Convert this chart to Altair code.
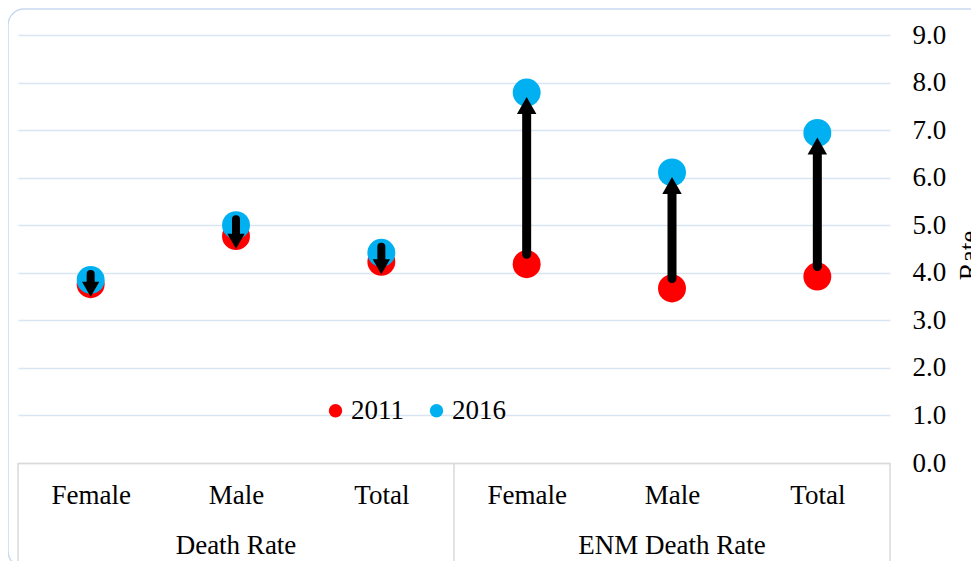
import json
import altair as alt
import pandas as pd

groups = ["Death  Rate", "Death  Rate", "Death  Rate",
          "ENM Death Rate", "ENM Death Rate", "ENM Death Rate"]
categories = ["Female", "Male", "Total", "Female", "Male", "Total"]
rate_2011 = [3.76, 4.77, 4.23, 4.18, 3.67, 3.92]
rate_2016 = [3.85, 5.00, 4.42, 7.79, 6.11, 6.94]
years = ["2011", "2016"]
group_names = ["Death  Rate", "ENM Death Rate"]

FONT = "Liberation Serif"
FS = 27
RED = "#FF0000"
BLUE = "#00B0F0"
GRID = "#DAE5F3"
TABLE = "#D9D9D9"

n = len(categories)
idx = list(range(n))

points = pd.DataFrame(
    [{"i": i, "year": years[0], "rate": rate_2011[i]} for i in idx]
    + [{"i": i, "year": years[1], "rate": rate_2016[i]} for i in idx]
)

arrows = pd.DataFrame({
    "i": idx,
    "group": groups,
    "r11": rate_2011,
    "r16": rate_2016,
})
up = arrows[arrows["group"] == group_names[1]]
down = arrows[arrows["group"] == group_names[0]]

group_pos = pd.DataFrame({
    "name": group_names,
    "c": [sum(i for i in idx if groups[i] == g) / groups.count(g) for g in group_names],
})
sep = pd.DataFrame({"s": [-0.5, 2.5, n - 0.5]})

W, H = 872, 428

xscale = alt.Scale(domain=[-0.5, n - 0.5], nice=False, zero=False)
yscale = alt.Scale(domain=[0, 9], nice=False)

label_expr = json.dumps(categories) + "[datum.value]"

base_x = alt.X(
    "i:Q", scale=xscale,
    axis=alt.Axis(values=idx, labelExpr=label_expr, title=None, grid=False,
                  ticks=False, domainColor=TABLE, domainWidth=1.5,
                  labelFont=FONT, labelFontSize=FS, labelColor="#000000",
                  labelPadding=19),
)
base_y = alt.Y(
    "rate:Q", scale=yscale,
    axis=alt.Axis(orient="right", values=list(range(10)), format=".1f",
                  title="Rate", titleFont=FONT, titleFontSize=FS,
                  titleFontWeight="normal", titleColor="#000000",
                  titleAngle=270, titleX=66, titleY=220, titleBaseline="top",
                  labelFont=FONT, labelFontSize=FS, labelColor="#000000",
                  labelPadding=22, ticks=False, domain=False,
                  grid=True, gridColor=GRID, gridWidth=1.5),
)

border = alt.Chart(pd.DataFrame({"a": [0]})).mark_rect(
    fillOpacity=0, stroke="#C6D9F0", strokeWidth=1.5, cornerRadius=16
).encode(
    x=alt.value(-10), x2=alt.value(1000), y=alt.value(-26), y2=alt.value(532)
)

dots = alt.Chart(points).mark_point(filled=True, opacity=1, size=780).encode(
    x=base_x,
    y=base_y,
    color=alt.Color(
        "year:N",
        scale=alt.Scale(domain=years, range=[RED, BLUE]),
        legend=alt.Legend(
            title=None, orient="none", direction="horizontal",
            legendX=304, legendY=362, symbolType="circle", symbolSize=180,
            symbolStrokeWidth=0, labelFont=FONT, labelFontSize=FS,
            labelColor="#000000", labelOffset=2, columnPadding=19,
        ),
    ),
)

seps = alt.Chart(sep).mark_rule(color=TABLE, strokeWidth=1.5).encode(
    x=alt.X("s:Q", scale=xscale), y=alt.value(H), y2=alt.value(H + 120)
)

up_stem = alt.Chart(up).mark_rule(
    color="black", strokeWidth=9, strokeCap="round", yOffset=-10, y2Offset=18
).encode(
    x=alt.X("i:Q", scale=xscale), y=alt.Y("r11:Q", scale=yscale), y2="r16:Q"
)
up_head = alt.Chart(up).mark_point(
    shape="triangle-up", filled=True, opacity=1, color="black", size=380,
    yOffset=13
).encode(
    x=alt.X("i:Q", scale=xscale), y=alt.Y("r16:Q", scale=yscale)
)

down_stem = alt.Chart(down).mark_rule(
    color="black", strokeWidth=8, strokeCap="round", yOffset=-6, y2Offset=-2
).encode(
    x=alt.X("i:Q", scale=xscale), y=alt.Y("r16:Q", scale=yscale), y2="r11:Q"
)
down_head = alt.Chart(down).mark_point(
    shape="triangle-down", filled=True, opacity=1, color="black", size=300,
    yOffset=5
).encode(
    x=alt.X("i:Q", scale=xscale), y=alt.Y("r11:Q", scale=yscale)
)

group_text = alt.Chart(group_pos).mark_text(
    font=FONT, fontSize=FS, color="black", baseline="middle"
).encode(
    x=alt.X("c:Q", scale=xscale), y=alt.value(H + 83), text="name:N"
)

chart = alt.layer(
    border, dots, seps, up_stem, up_head, down_stem, down_head, group_text
).properties(
    width=W, height=H,
    autosize=alt.AutoSizeParams(type="none"),
    padding={"left": 10, "top": 27, "right": 81, "bottom": 98},
).configure(font=FONT).configure_view(stroke="transparent", strokeWidth=0)

chart.save("out.html", embed_options={"renderer": "svg", "actions": False})
